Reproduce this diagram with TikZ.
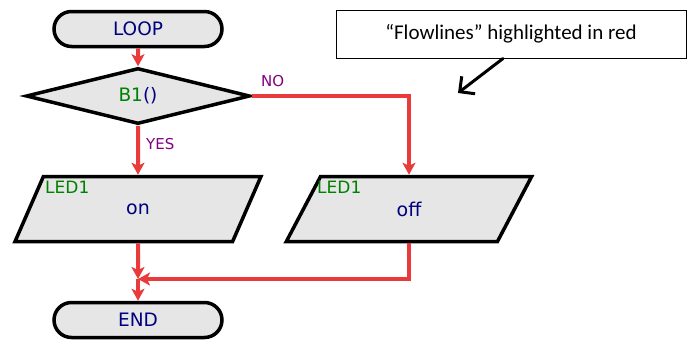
\documentclass[tikz,border=0pt]{standalone}
\usepackage{fontspec}
\setmainfont{DejaVu Sans}
\newfontfamily\notefont{Carlito}
\usetikzlibrary{shapes.geometric, shapes.misc, arrows.meta, positioning}
\definecolor{flowred}{RGB}{233,59,59}
\definecolor{txtblue}{RGB}{0,0,128}
\definecolor{txtgreen}{RGB}{0,128,0}
\definecolor{txtpurple}{RGB}{128,0,128}
\definecolor{boxgray}{RGB}{230,230,230}

\begin{document}
\begin{tikzpicture}[x=1pt, y=-1pt,
    terminal/.style=
    {draw, rounded rectangle, fill=boxgray, line width=3.5pt, minimum width=168pt, minimum height=35pt, inner sep=0pt, font=\fontsize{18.5}{20}\selectfont, text=txtblue}, decision/.style=
    {draw, diamond, fill=boxgray, line width=3.5pt, minimum width=224pt, minimum height=56pt, inner sep=0pt, font=\fontsize{18.5}{20}\selectfont, text=txtblue}, io/.style=
    {draw, trapezium, trapezium left angle=72, trapezium right angle=108, trapezium stretches=true, fill=boxgray, line width=3.5pt, minimum width=246pt, minimum height=65pt, inner sep=0pt, font=\fontsize{19}{20}\selectfont, text=txtblue},
    portname/.style={anchor=base west, inner sep=0pt, text=txtgreen, font=\fontsize{17}{18}\selectfont},
    branch/.style={anchor=base west, inner sep=0pt, text=txtpurple, font=\fontsize{15}{16}\selectfont},
    flow/.style={draw=flowred, line width=4pt, -{Stealth[length=12pt, width=13pt, inset=3pt]}},
    pointer/.style={draw=black, line width=3pt, line cap=round, -{Straight Barb[length=11pt, width=22pt]}}]
    \useasboundingbox (0,0) rectangle (687,340);
    \node (loop) [terminal] at (138,29) {LOOP};
    \node (cond) [decision] at (138,96) {\textcolor{txtgreen}{B1}()};
    \node (on) [io] at (138,209) {on};
    \node (off) [io] at (409,209) {off};
    \node (end) [terminal] at (138,320) {END};
    \node (onport) [portname] at (45,193) {LED1};
    \node (offport) [portname] at (317,193) {LED1};
    \node (yes) [branch] at (146,149) {YES};
    \node (no) [branch] at (261,86) {NO};
    \coordinate (merge) at (138,279);
    \path[flow] (loop) -- (cond);
    \path[flow] (cond.south) -- (on.north);
    \path[flow] (cond.east) -| (off.north);
    \path[flow] (on.south) -- (merge);
    \path[flow] (off.south) |- (merge);
    \path[flow] (merge) -- (end.north);
    % note
    \node (note) [draw, line width=1pt, minimum width=350pt, minimum height=48pt, font=\notefont\fontsize{21}{24}\selectfont] at (511,34) {“Flowlines” highlighted in red};
    \coordinate (hint) at (458,93);
    \path[pointer] ([xshift=-8pt]note.south) -- (hint);
\end{tikzpicture}
\end{document}
